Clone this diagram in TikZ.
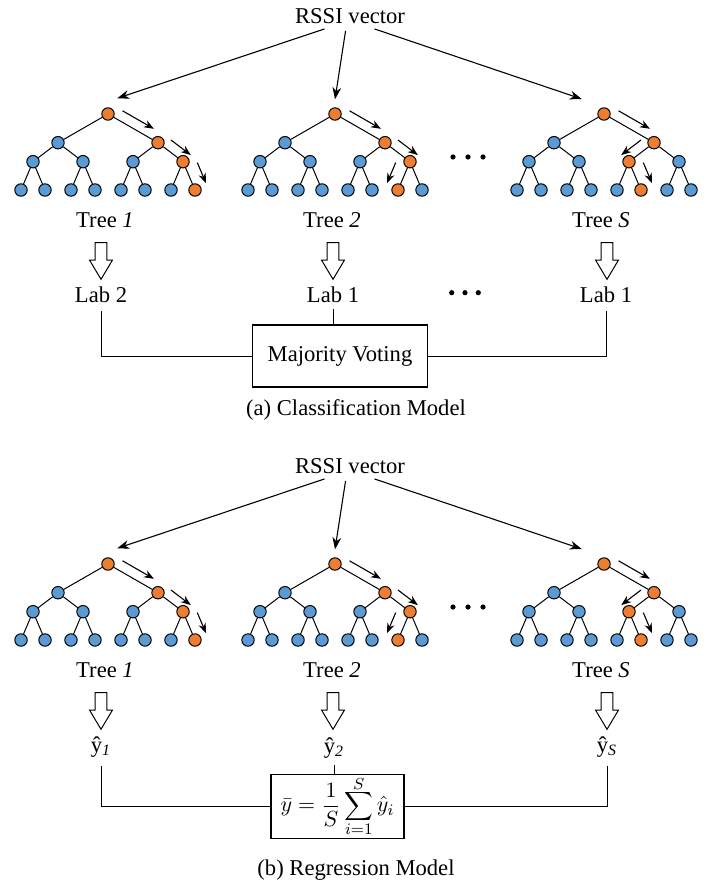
\documentclass[tikz,border=0pt]{standalone}
\usepackage{fontspec}
\setmainfont{Liberation Serif}
\usetikzlibrary{arrows.meta,calc,positioning}

\definecolor{nodeblue}{HTML}{5B9BD5}
\definecolor{nodeorange}{HTML}{ED7D31}

\tikzset{
  treenode/.style={circle,draw,line width=0.5pt,inner sep=0pt,minimum size=6.2pt},
  treeedge/.style={line width=0.5pt},
  inarrow/.style={-{Stealth[length=6pt,width=4.4pt]},line width=0.55pt},
  patharrow/.style={-{Stealth[length=5pt,width=3.8pt]},line width=0.55pt},
  blockarrow/.style={line width=0.5pt,line join=miter},
  wire/.style={line width=0.5pt},
  txt/.style={inner sep=2pt},
  modelbox/.style={draw,line width=0.55pt,inner xsep=3pt,inner ysep=1pt}
}

\begin{document}
\begin{tikzpicture}[x=0.5pt,y=-0.5pt,font=\fontsize{11.3}{13.6}\selectfont]
  \useasboundingbox (0,0) rectangle (716,882);

  % the two forests, (a) on top and (b) below
  \foreach \p/\py in {a/0,b/450}{
    \node[txt] (\p-rssi) at (350,16+\py) {RSSI vector};
    \foreach \tr/\tx/\na/\nb/\angA/\angB/\sx/\ix/\iy/\lx in
      {1/108/7/15/90/90/-11.35/9.3/-15.7/101,
       2/335/7/14/90/-90/-2/0/-14.7/333,
       S/604/6/13/-90/90/10.85/-22.3/-15/607}{
      % nodes, orange along the decision path
      \foreach \k/\dx/\dy in {1/0/0,2/-50/28.7,3/50/28.7,4/-75/47.7,5/-25/47.7,6/25/47.7,7/75/47.7,
          8/-87/76,9/-63/76,10/-37/76,11/-13/76,12/13/76,13/37/76,14/63/76,15/87/76}{
        \pgfmathtruncatemacro\isor{(\k==1)||(\k==3)||(\k==\na)||(\k==\nb)}
        \ifnum\isor=1 \def\ncol{nodeorange}\else\def\ncol{nodeblue}\fi
        \node[treenode,fill=\ncol] (\p\tr-\k) at (\tx+\dx,114+\py+\dy) {};
      }
      \foreach \k in {2,...,15}{
        \pgfmathtruncatemacro\pa{\k/2}
        \draw[treeedge] (\p\tr-\pa) -- (\p\tr-\k);
      }
      % arrows along the path
      \foreach \fr/\nx/\ang/\sa/\sb/\off in {1/3/90/5.5/5.25/5,3/\na/\angA/4.4/-1.1/5,\na/\nb/\angB/3.2/1/6.4}{
        \pgfmathtruncatemacro\bng{-(\ang)}
        \draw[patharrow] ($(\p\tr-\fr)!\sa pt!(\p\tr-\nx)!\off pt!\ang:(\p\tr-\nx)$)
          -- ($(\p\tr-\nx)!\sb pt!(\p\tr-\fr)!\off pt!\bng:(\p\tr-\fr)$);
      }
      \draw[inarrow,shorten <=1.5pt] ([xshift=\sx pt]\p-rssi.south) -- ($(\p\tr-1)+(\ix,\iy)$);
      \node[txt] (\p\tr-name) at (\tx-3,220+\py) {Tree \textit{\tr}};
      \draw[blockarrow] (\lx-5.85,242.7+\py) -- ++(11.7,0) -- ++(0,17.3) -- ++(5.65,0)
        -- (\lx,279.3+\py) -- (\lx-11.5,260+\py) -- ++(5.65,0) -- cycle;
    }
    \foreach \dx in {453,468,483}
      \fill (\dx,157+\py) circle (1.3pt);
  }

  % (a) classification
  \node[txt] (la1) at (101,295) {Lab 2};
  \node[txt] (la2) at (333,295) {Lab 1};
  \node[txt] (laS) at (606,295) {Lab 1};
  \foreach \dx in {451.7,465,478.3}
    \fill (\dx,292.7) circle (1.3pt);
  \node[modelbox,minimum width=87.5pt,minimum height=31pt] (vote) at (340,356) {Majority Voting};
  \draw[wire,shorten <=2pt] (la1) |- (vote);
  \draw[wire,shorten <=2pt] (laS) |- (vote);
  \draw[wire,shorten <=1pt] (la2) -- (la2 |- vote.north);
  \node[txt] (capA) at (356,410) {(a) Classification Model};

  % (b) regression
  \node[txt] (ya1) at (101,747) {ŷ\textsubscript{\textit{1}}};
  \node[txt] (ya2) at (334,748) {ŷ\textsubscript{\textit{2}}};
  \node[txt] (yaS) at (607,747) {ŷ\textsubscript{\textit{S}}};
  \node[modelbox,minimum width=66.5pt,minimum height=32pt] (avg) at (337.5,806.3)
    {$\fontdimen9\textfont3=0.6pt \fontdimen10\textfont3=0.6pt \fontdimen11\textfont3=0pt
      \fontdimen12\textfont3=0pt \fontdimen13\textfont3=0pt
      \displaystyle \bar{y}=\frac{1}{S}\sum_{i=1}^{S}\hat{y}_i$};
  \draw[wire,shorten <=2pt] (ya1) |- (avg);
  \draw[wire,shorten <=2pt] (yaS) |- (avg);
  \draw[wire,shorten <=1pt] (ya2) -- (ya2 |- avg.north);
  \node[txt] (capB) at (356,870) {(b) Regression Model};
\end{tikzpicture}
\end{document}
